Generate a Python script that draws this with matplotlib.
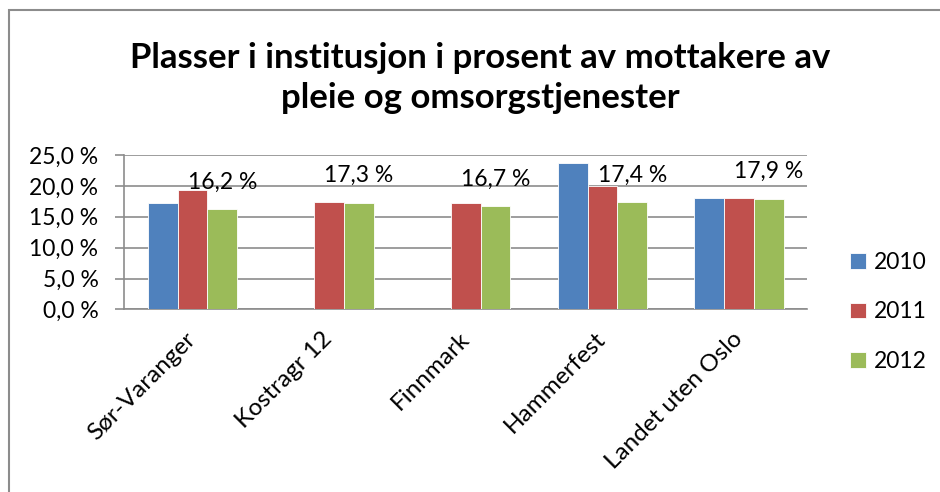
import numpy as np
import matplotlib
matplotlib.use("Agg")
import matplotlib.pyplot as plt
from matplotlib.ticker import FuncFormatter
from matplotlib.patches import Rectangle

plt.rcParams["font.family"] = ["Lato", "DejaVu Sans"]

categories = ["Sør-Varanger", "Kostragr 12", "Finnmark", "Hammerfest", "Landet uten Oslo"]
years = ["2010", "2011", "2012"]
v2010 = [17.3, np.nan, np.nan, 23.7, 18.0]
v2011 = [19.3, 17.4, 17.3, 19.9, 18.0]
v2012 = [16.2, 17.3, 16.7, 17.4, 17.9]
colors = ["#4F81BD", "#C0504D", "#9BBB59"]

fig = plt.figure(figsize=(9.4, 4.92), dpi=100)
ax = fig.add_axes([0.132, 0.371, 0.727, 0.314])

# outer chart frame (only left and top visible in the original)
fig.patches.append(Rectangle((9 / 940, -0.1), 1.2, 1 - 10 / 492 + 0.1,
                             transform=fig.transFigure, fill=False,
                             edgecolor="#8C8C8C", linewidth=1.5))

x = np.arange(len(categories))
w = 0.218
series = [v2010, v2011, v2012]
for i, (vals, c, lab) in enumerate(zip(series, colors, years)):
    ax.bar(x + (i - 1) * w, vals, width=w, color=c, edgecolor="white",
           linewidth=0.6, label=lab, zorder=3)

# data labels only on the 2012 series
for xi, v in zip(x + w, v2012):
    ax.annotate(f"{v:.1f} %".replace(".", ","), (xi, v), xytext=(0, 19.5),
                textcoords="offset points", ha="center", va="center",
                fontsize=16.5, zorder=4)

ax.set_xlim(-0.5, len(categories) - 0.5)
ax.set_ylim(0, 25)
ax.set_yticks(np.arange(0, 25.1, 5))
ax.yaxis.set_major_formatter(FuncFormatter(lambda v, p: f"{v:.1f} %".replace(".", ",")))
ax.grid(axis="y", color="#8C8C8C", linewidth=1.2, zorder=0)
ax.tick_params(axis="y", length=6.5, width=1.2, color="#8C8C8C", labelsize=16.5, pad=12)
ax.set_xticks(x)
ax.set_xticklabels(categories, rotation=45, ha="right", va="center",
                   rotation_mode="anchor", fontsize=17.5)
ax.tick_params(axis="x", length=0, pad=19)
for s in ["top", "right"]:
    ax.spines[s].set_visible(False)
for s in ["left", "bottom"]:
    ax.spines[s].set_color("#8C8C8C")
    ax.spines[s].set_linewidth(1.2)

fig.text(0.511, 0.842, "Plasser i institusjon i prosent av mottakere av\npleie og omsorgstjenester",
         ha="center", va="center", fontsize=25, fontweight="bold", linespacing=1.3)

ax.legend(loc="center left", bbox_to_anchor=(0.895, 0.366), bbox_transform=fig.transFigure,
          frameon=False, fontsize=16.5, handlelength=0.68, handleheight=0.68,
          handletextpad=0.35, labelspacing=1.25, borderaxespad=0)

fig.savefig("out.png", dpi=100)
